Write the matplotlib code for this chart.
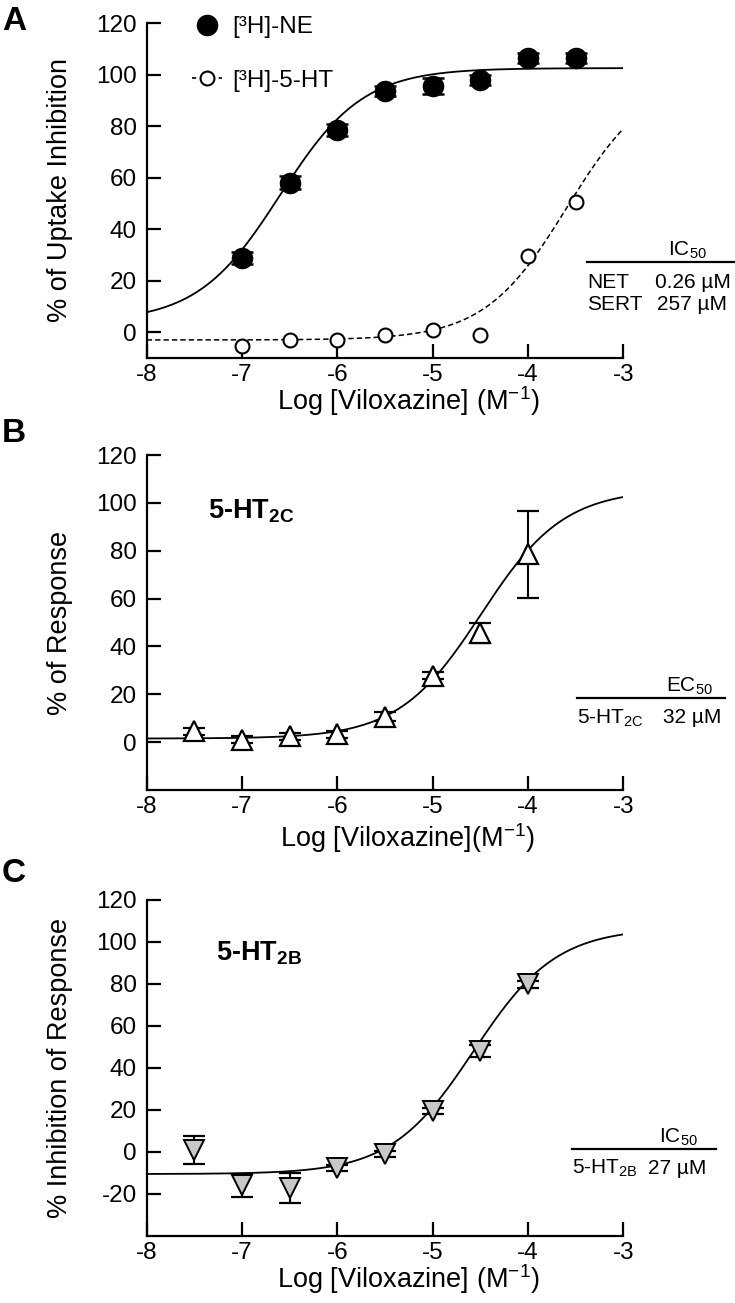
import numpy as np
import matplotlib
matplotlib.use("Agg")
import matplotlib.pyplot as plt
from matplotlib.lines import Line2D

plt.rcParams['font.family'] = ['Liberation Sans', 'DejaVu Sans']
plt.rcParams['mathtext.fontset'] = 'custom'
plt.rcParams['mathtext.rm'] = 'Liberation Sans'
plt.rcParams['mathtext.it'] = 'Liberation Sans:italic'
plt.rcParams['mathtext.bf'] = 'Liberation Sans:bold'
plt.rcParams['axes.unicode_minus'] = False

# log [viloxazine] concentrations
conc_a = [-7, -6.5, -6, -5.5, -5, -4.5, -4, -3.5]
conc_bc = [-7.5, -7, -6.5, -6, -5.5, -5, -4.5, -4]

# panel A: uptake inhibition
ne_mean = [28.8, 58.1, 78.5, 93.7, 95.6, 97.9, 106.3, 106.3]
ne_err = [2.5, 2.5, 2.5, 2.0, 3.0, 2.0, 2.0, 2.0]
ht_mean = [-5.3, -3.2, -3.2, -1.0, 0.9, -1.0, 29.6, 50.5]

# panel B: 5-HT2C response
b_mean = [4.5, 1.0, 2.4, 3.3, 10.7, 27.8, 45.5, 78.5]
b_err = [1.6, 1.5, 1.5, 1.5, 2.0, 1.5, 4.2, 18.2]

# panel C: 5-HT2B inhibition of response
c_mean = [1.0, -15.8, -17.2, -7.5, -1.1, 19.5, 48.1, 79.8]
c_err = [6.5, 5.5, 7.2, 1.5, 1.5, 1.5, 3.0, 1.5]

# fitted curves: bottom, top, log IC50/EC50, hill
fit_ne = [4.0, 102.5, -6.6, 1.0]
fit_ht = [-3.0, 100.0, -3.59, 1.0]
fit_b = [1.5, 105.7, -4.49, 1.0]
fit_c = [-10.5, 106.7, -4.57, 1.0]


def logistic(x, p):
    bottom, top, mid, hill = p
    return bottom + (top - bottom) / (1 + 10 ** ((mid - x) * hill))


xs = np.linspace(-8, -3, 300)

W, H = 735, 1303
fig = plt.figure(figsize=(W / 100, H / 100), dpi=100)


def fx(px):
    return px / W


def fy(py):
    return 1 - py / H


def style(ax, ymin, yticks, ylabel, xlabel, xlab_y=-0.078):
    ax.set_xlim(-8, -3)
    ax.set_ylim(ymin, 120)
    ax.set_xticks(range(-8, -2))
    ax.set_yticks(yticks)
    for s in ['top', 'right']:
        ax.spines[s].set_visible(False)
    for s in ['left', 'bottom']:
        ax.spines[s].set_linewidth(1.6)
    ax.tick_params(axis='both', direction='in', length=10, width=1.6, labelsize=17.5)
    ax.tick_params(axis='y', pad=7)
    ax.tick_params(axis='x', pad=4)
    ax.set_ylabel(ylabel, fontsize=19.5)
    ax.yaxis.set_label_coords(-0.155, 0.5)
    ax.set_xlabel(xlabel, fontsize=19.5)
    ax.xaxis.set_label_coords(0.548, xlab_y)


pos_w = 476.6 / W
axA = fig.add_axes([146.7 / W, fy(358), pos_w, 335 / H])
axB = fig.add_axes([146.7 / W, fy(790), pos_w, 335 / H])
axC = fig.add_axes([146.7 / W, fy(1236), pos_w, 336 / H])

# ---- panel A
style(axA, -10, range(0, 121, 20), '% of Uptake Inhibition', r'Log [Viloxazine] (M$^{-1}$)')
axA.plot(xs, logistic(xs, fit_ne), color='black', lw=1.3, zorder=1)
axA.plot(xs, logistic(xs, fit_ht), color='black', lw=1.1, ls=(0, (3.5, 2)), zorder=1)
axA.errorbar(conc_a, ne_mean, yerr=ne_err, fmt='none', ecolor='black', elinewidth=1.5,
             capsize=8, capthick=1.8, zorder=2)
axA.plot(conc_a, ne_mean, 'o', ms=14.5, mfc='black', mec='black', zorder=3)
axA.plot(conc_a, ht_mean, 'o', ms=10, mfc='white', mec='black', mew=1.5, zorder=3)

h1 = Line2D([], [], marker='o', ls='none', ms=14.5, mfc='black', mec='black')
h2 = Line2D([], [], marker='o', ls=(0, (2.5, 5.5)), lw=1.2, color='black', ms=10,
            mfc='white', mec='black', mew=1.5)
axA.legend([h1, h2], ['[³H]-NE', '[³H]-5-HT'], loc='upper left',
           bbox_to_anchor=(0.095, 1.02), frameon=False, fontsize=17.5,
           handlelength=1.25, handletextpad=0.4, labelspacing=1.3,
           borderpad=0, borderaxespad=0)

# ---- panel B
style(axB, -20, range(0, 121, 20), '% of Response', r'Log [Viloxazine](M$^{-1}$)', -0.092)
axB.plot(xs, logistic(xs, fit_b), color='black', lw=1.3, zorder=1)
axB.errorbar(conc_bc, b_mean, yerr=b_err, fmt='none', ecolor='black', elinewidth=1.5,
             capsize=8, capthick=1.6, zorder=2)
axB.plot(conc_bc, b_mean, '^', ms=14, mfc='white', mec='black', mew=1.6, zorder=3)

# ---- panel C
style(axC, -40, range(-20, 121, 20), '% Inhibition of Response', r'Log [Viloxazine] (M$^{-1}$)')
axC.plot(xs, logistic(xs, fit_c), color='black', lw=1.3, zorder=1)
axC.errorbar(conc_bc, c_mean, yerr=c_err, fmt='none', ecolor='black', elinewidth=1.5,
             capsize=8, capthick=1.6, zorder=2)
axC.plot(conc_bc, c_mean, 'v', ms=14, mfc='#c8c8c8', mec='black', mew=1.4, zorder=3)

# panel letters
for letter, py in [('A', 22), ('B', 433), ('C', 873)]:
    fig.text(fx(2), fy(py), letter, fontsize=24, fontweight='bold', va='center', ha='left')

# receptor labels
fig.text(fx(208), fy(511), r'5-HT$_{\mathbf{2C}}$', fontsize=19.5, fontweight='bold', va='center')
fig.text(fx(216), fy(953), r'5-HT$_{\mathbf{2B}}$', fontsize=19.5, fontweight='bold', va='center')

# small IC50 / EC50 tables
tfs = 15
fig.add_artist(Line2D([fx(587), fx(735)], [fy(262), fy(262)], color='black', lw=1.6))
fig.text(fx(687), fy(250), r'IC$_{\mathrm{50}}$', fontsize=tfs, ha='center', va='center')
fig.text(fx(587), fy(282), 'NET', fontsize=tfs, va='center')
fig.text(fx(655), fy(282), '0.26 µM', fontsize=tfs, va='center')
fig.text(fx(587), fy(305), 'SERT', fontsize=tfs, va='center')
fig.text(fx(657), fy(305), '257 µM', fontsize=tfs, va='center')

fig.add_artist(Line2D([fx(577), fx(725)], [fy(698), fy(698)], color='black', lw=1.6))
fig.text(fx(689), fy(686), r'EC$_{\mathrm{50}}$', fontsize=tfs, ha='center', va='center')
fig.text(fx(577), fy(718), r'5-HT$_{\mathrm{2C}}$', fontsize=tfs, va='center')
fig.text(fx(663), fy(718), '32 µM', fontsize=tfs, va='center')

fig.add_artist(Line2D([fx(572), fx(716)], [fy(1149), fy(1149)], color='black', lw=1.6))
fig.text(fx(678), fy(1137), r'IC$_{\mathrm{50}}$', fontsize=tfs, ha='center', va='center')
fig.text(fx(572), fy(1168), r'5-HT$_{\mathrm{2B}}$', fontsize=tfs, va='center')
fig.text(fx(648), fy(1168), '27 µM', fontsize=tfs, va='center')

fig.savefig('out.png', dpi=100)
